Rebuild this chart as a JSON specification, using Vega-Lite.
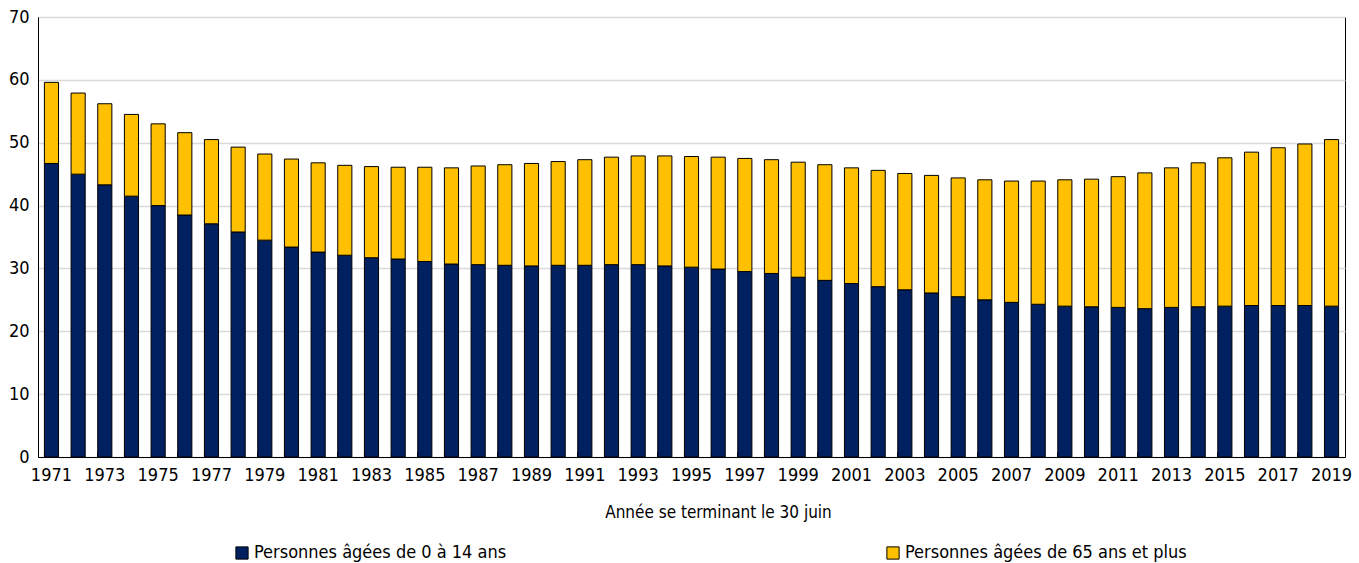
{
  "$schema": "https://vega.github.io/schema/vega-lite/v6.json",
  "width": 1307,
  "height": 440,
  "autosize": {"type": "none"},
  "padding": {"left": 38, "top": 17, "right": 14, "bottom": 106},
  "background": "white",
  "config": {
    "font": "Liberation Sans Narrow, DejaVu Sans Condensed, sans-serif",
    "view": {"stroke": "black", "strokeWidth": 1}
  },
  "data": {
    "values": [
      {"year": 1971, "grp": "Personnes âgées de 0 à 14 ans", "v": 46.7}, {"year": 1971, "grp": "Personnes âgées de 65 ans et plus", "v": 12.9},
      {"year": 1972, "grp": "Personnes âgées de 0 à 14 ans", "v": 45.0}, {"year": 1972, "grp": "Personnes âgées de 65 ans et plus", "v": 12.9},
      {"year": 1973, "grp": "Personnes âgées de 0 à 14 ans", "v": 43.3}, {"year": 1973, "grp": "Personnes âgées de 65 ans et plus", "v": 12.9},
      {"year": 1974, "grp": "Personnes âgées de 0 à 14 ans", "v": 41.5}, {"year": 1974, "grp": "Personnes âgées de 65 ans et plus", "v": 13.0},
      {"year": 1975, "grp": "Personnes âgées de 0 à 14 ans", "v": 40.0}, {"year": 1975, "grp": "Personnes âgées de 65 ans et plus", "v": 13.0},
      {"year": 1976, "grp": "Personnes âgées de 0 à 14 ans", "v": 38.5}, {"year": 1976, "grp": "Personnes âgées de 65 ans et plus", "v": 13.1},
      {"year": 1977, "grp": "Personnes âgées de 0 à 14 ans", "v": 37.1}, {"year": 1977, "grp": "Personnes âgées de 65 ans et plus", "v": 13.4},
      {"year": 1978, "grp": "Personnes âgées de 0 à 14 ans", "v": 35.8}, {"year": 1978, "grp": "Personnes âgées de 65 ans et plus", "v": 13.5},
      {"year": 1979, "grp": "Personnes âgées de 0 à 14 ans", "v": 34.5}, {"year": 1979, "grp": "Personnes âgées de 65 ans et plus", "v": 13.7},
      {"year": 1980, "grp": "Personnes âgées de 0 à 14 ans", "v": 33.4}, {"year": 1980, "grp": "Personnes âgées de 65 ans et plus", "v": 14.0},
      {"year": 1981, "grp": "Personnes âgées de 0 à 14 ans", "v": 32.6}, {"year": 1981, "grp": "Personnes âgées de 65 ans et plus", "v": 14.2},
      {"year": 1982, "grp": "Personnes âgées de 0 à 14 ans", "v": 32.1}, {"year": 1982, "grp": "Personnes âgées de 65 ans et plus", "v": 14.3},
      {"year": 1983, "grp": "Personnes âgées de 0 à 14 ans", "v": 31.7}, {"year": 1983, "grp": "Personnes âgées de 65 ans et plus", "v": 14.5},
      {"year": 1984, "grp": "Personnes âgées de 0 à 14 ans", "v": 31.5}, {"year": 1984, "grp": "Personnes âgées de 65 ans et plus", "v": 14.6},
      {"year": 1985, "grp": "Personnes âgées de 0 à 14 ans", "v": 31.1}, {"year": 1985, "grp": "Personnes âgées de 65 ans et plus", "v": 15.0},
      {"year": 1986, "grp": "Personnes âgées de 0 à 14 ans", "v": 30.7}, {"year": 1986, "grp": "Personnes âgées de 65 ans et plus", "v": 15.3},
      {"year": 1987, "grp": "Personnes âgées de 0 à 14 ans", "v": 30.6}, {"year": 1987, "grp": "Personnes âgées de 65 ans et plus", "v": 15.7},
      {"year": 1988, "grp": "Personnes âgées de 0 à 14 ans", "v": 30.5}, {"year": 1988, "grp": "Personnes âgées de 65 ans et plus", "v": 16.0},
      {"year": 1989, "grp": "Personnes âgées de 0 à 14 ans", "v": 30.4}, {"year": 1989, "grp": "Personnes âgées de 65 ans et plus", "v": 16.3},
      {"year": 1990, "grp": "Personnes âgées de 0 à 14 ans", "v": 30.5}, {"year": 1990, "grp": "Personnes âgées de 65 ans et plus", "v": 16.5},
      {"year": 1991, "grp": "Personnes âgées de 0 à 14 ans", "v": 30.5}, {"year": 1991, "grp": "Personnes âgées de 65 ans et plus", "v": 16.8},
      {"year": 1992, "grp": "Personnes âgées de 0 à 14 ans", "v": 30.6}, {"year": 1992, "grp": "Personnes âgées de 65 ans et plus", "v": 17.1},
      {"year": 1993, "grp": "Personnes âgées de 0 à 14 ans", "v": 30.6}, {"year": 1993, "grp": "Personnes âgées de 65 ans et plus", "v": 17.3},
      {"year": 1994, "grp": "Personnes âgées de 0 à 14 ans", "v": 30.4}, {"year": 1994, "grp": "Personnes âgées de 65 ans et plus", "v": 17.5},
      {"year": 1995, "grp": "Personnes âgées de 0 à 14 ans", "v": 30.2}, {"year": 1995, "grp": "Personnes âgées de 65 ans et plus", "v": 17.6},
      {"year": 1996, "grp": "Personnes âgées de 0 à 14 ans", "v": 29.9}, {"year": 1996, "grp": "Personnes âgées de 65 ans et plus", "v": 17.8},
      {"year": 1997, "grp": "Personnes âgées de 0 à 14 ans", "v": 29.5}, {"year": 1997, "grp": "Personnes âgées de 65 ans et plus", "v": 18.0},
      {"year": 1998, "grp": "Personnes âgées de 0 à 14 ans", "v": 29.2}, {"year": 1998, "grp": "Personnes âgées de 65 ans et plus", "v": 18.1},
      {"year": 1999, "grp": "Personnes âgées de 0 à 14 ans", "v": 28.6}, {"year": 1999, "grp": "Personnes âgées de 65 ans et plus", "v": 18.3},
      {"year": 2000, "grp": "Personnes âgées de 0 à 14 ans", "v": 28.1}, {"year": 2000, "grp": "Personnes âgées de 65 ans et plus", "v": 18.4},
      {"year": 2001, "grp": "Personnes âgées de 0 à 14 ans", "v": 27.6}, {"year": 2001, "grp": "Personnes âgées de 65 ans et plus", "v": 18.4},
      {"year": 2002, "grp": "Personnes âgées de 0 à 14 ans", "v": 27.1}, {"year": 2002, "grp": "Personnes âgées de 65 ans et plus", "v": 18.5},
      {"year": 2003, "grp": "Personnes âgées de 0 à 14 ans", "v": 26.6}, {"year": 2003, "grp": "Personnes âgées de 65 ans et plus", "v": 18.5},
      {"year": 2004, "grp": "Personnes âgées de 0 à 14 ans", "v": 26.1}, {"year": 2004, "grp": "Personnes âgées de 65 ans et plus", "v": 18.7},
      {"year": 2005, "grp": "Personnes âgées de 0 à 14 ans", "v": 25.5}, {"year": 2005, "grp": "Personnes âgées de 65 ans et plus", "v": 18.9},
      {"year": 2006, "grp": "Personnes âgées de 0 à 14 ans", "v": 25.0}, {"year": 2006, "grp": "Personnes âgées de 65 ans et plus", "v": 19.1},
      {"year": 2007, "grp": "Personnes âgées de 0 à 14 ans", "v": 24.6}, {"year": 2007, "grp": "Personnes âgées de 65 ans et plus", "v": 19.3},
      {"year": 2008, "grp": "Personnes âgées de 0 à 14 ans", "v": 24.3}, {"year": 2008, "grp": "Personnes âgées de 65 ans et plus", "v": 19.6},
      {"year": 2009, "grp": "Personnes âgées de 0 à 14 ans", "v": 24.0}, {"year": 2009, "grp": "Personnes âgées de 65 ans et plus", "v": 20.1},
      {"year": 2010, "grp": "Personnes âgées de 0 à 14 ans", "v": 23.9}, {"year": 2010, "grp": "Personnes âgées de 65 ans et plus", "v": 20.3},
      {"year": 2011, "grp": "Personnes âgées de 0 à 14 ans", "v": 23.8}, {"year": 2011, "grp": "Personnes âgées de 65 ans et plus", "v": 20.8},
      {"year": 2012, "grp": "Personnes âgées de 0 à 14 ans", "v": 23.6}, {"year": 2012, "grp": "Personnes âgées de 65 ans et plus", "v": 21.6},
      {"year": 2013, "grp": "Personnes âgées de 0 à 14 ans", "v": 23.8}, {"year": 2013, "grp": "Personnes âgées de 65 ans et plus", "v": 22.2},
      {"year": 2014, "grp": "Personnes âgées de 0 à 14 ans", "v": 23.9}, {"year": 2014, "grp": "Personnes âgées de 65 ans et plus", "v": 22.9},
      {"year": 2015, "grp": "Personnes âgées de 0 à 14 ans", "v": 24.0}, {"year": 2015, "grp": "Personnes âgées de 65 ans et plus", "v": 23.6},
      {"year": 2016, "grp": "Personnes âgées de 0 à 14 ans", "v": 24.1}, {"year": 2016, "grp": "Personnes âgées de 65 ans et plus", "v": 24.4},
      {"year": 2017, "grp": "Personnes âgées de 0 à 14 ans", "v": 24.1}, {"year": 2017, "grp": "Personnes âgées de 65 ans et plus", "v": 25.1},
      {"year": 2018, "grp": "Personnes âgées de 0 à 14 ans", "v": 24.1}, {"year": 2018, "grp": "Personnes âgées de 65 ans et plus", "v": 25.7},
      {"year": 2019, "grp": "Personnes âgées de 0 à 14 ans", "v": 24.0}, {"year": 2019, "grp": "Personnes âgées de 65 ans et plus", "v": 26.5}
    ]
  },
  "mark": {"type": "bar", "stroke": "black", "strokeWidth": 1},
  "encoding": {
    "x": {
      "field": "year",
      "type": "ordinal",
      "scale": {"paddingInner": 0.47, "paddingOuter": 0.24},
      "axis": {
        "title": "Année se terminant le 30 juin",
        "titleFontSize": 17,
        "titleFontWeight": "normal",
        "titleColor": "black",
        "titlePadding": 20,
        "titleX": 680,
        "labelAngle": 0,
        "labelFontSize": 18,
        "labelColor": "black",
        "labelOverlap": false,
        "labelExpr": "datum.value % 2 == 1 ? datum.label : ''",
        "labelPadding": 14,
        "bandPosition": 0,
        "ticks": true,
        "tickSize": -5,
        "tickColor": "black",
        "domainColor": "black",
        "grid": false
      }
    },
    "y": {
      "field": "v",
      "type": "quantitative",
      "stack": "zero",
      "scale": {"domain": [0, 70]},
      "axis": {
        "title": null,
        "values": [0, 10, 20, 30, 40, 50, 60, 70],
        "labelFontSize": 18,
        "labelColor": "black",
        "labelPadding": 9,
        "ticks": false,
        "domainColor": "black",
        "grid": true,
        "gridColor": "#d9d9d9",
        "gridWidth": 1.5
      }
    },
    "color": {
      "field": "grp",
      "type": "nominal",
      "scale": {
        "domain": ["Personnes âgées de 0 à 14 ans", "Personnes âgées de 65 ans et plus"],
        "range": ["#002060", "#FFC000"]
      },
      "legend": {
        "title": null,
        "orient": "none",
        "legendX": 195,
        "legendY": 527,
        "direction": "horizontal",
        "columns": 2,
        "columnPadding": 377,
        "symbolType": "square",
        "symbolSize": 150,
        "symbolStrokeColor": "black",
        "symbolStrokeWidth": 1,
        "symbolOffset": 0,
        "labelOffset": 3,
        "labelFontSize": 18,
        "labelColor": "black",
        "labelLimit": 400
      }
    },
    "order": {"field": "grp"}
  }
}
